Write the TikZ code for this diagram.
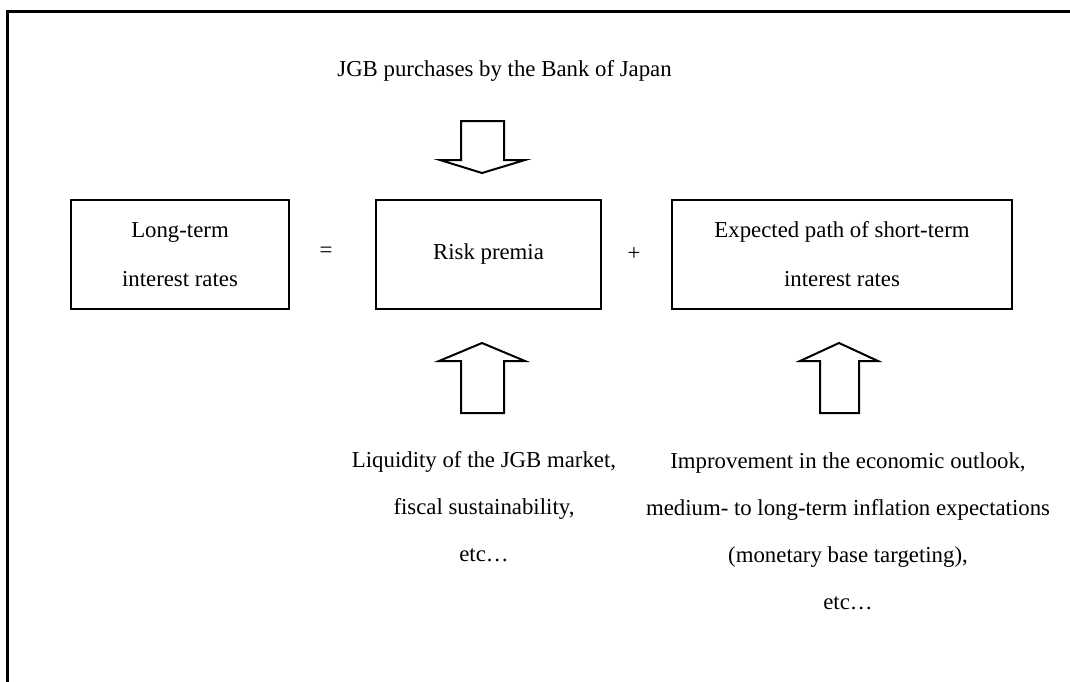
\documentclass[tikz,border=0pt]{standalone}
\usepackage{fontspec}
\setmainfont{Liberation Serif}
\usetikzlibrary{positioning}

\tikzset{
  termbox/.style={draw, line width=1pt, align=center, minimum height=54.5pt,
    inner sep=0pt, font=\fontsize{11.4}{24.5}\selectfont},
  factors/.style={align=center, anchor=north, inner sep=0pt,
    font=\fontsize{11.4}{23.5}\selectfont},
  blockarrow/.style={draw, line width=1pt, line join=miter}
}

\begin{document}
\begin{tikzpicture}[x=0.5pt, y=-0.5pt, font=\fontsize{11.4}{13.7}\selectfont]
\useasboundingbox (0,0) rectangle (1070,681);
% outer frame
\draw[line width=1.5pt] (7.5,690) -- (7.5,11.5) -- (1080,11.5);

\node[termbox, minimum width=109pt] (long) at (180,254.5)
    {Long-term\\interest rates};
\node[termbox, minimum width=112.5pt, right=42.5pt of long] (risk)
    {Risk premia};
\node[termbox, minimum width=170pt, right=34.5pt of risk] (path)
    {Expected path of short-term\\interest rates};
\node (eq) at (326,252) {=};
\node (plus) at (634,254) {+};

\node[anchor=base west, inner sep=0pt] (jgb) at (337,76)
    {JGB purchases by the Bank of Japan};
\node[factors] (liq) at (484,451.5)
    {Liquidity of the JGB market,\\fiscal sustainability,\\etc…};
\node[factors] (outlook) at (848,452)
    {Improvement in the economic outlook,\\medium- to long-term inflation expectations\\(monetary base targeting),\\etc…};

% block arrows
\draw[blockarrow] (461,121) -- (504,121) -- (504,160) -- (525,160)
    -- (482,173) -- (440,160) -- (461,160) -- cycle;
\draw[blockarrow] (461,413) -- (504,413) -- (504,361) -- (525,361)
    -- (482,343) -- (439,361) -- (461,361) -- cycle;
\draw[blockarrow] (820,413) -- (859,413) -- (859,361) -- (878,361)
    -- (839,343) -- (800,361) -- (820,361) -- cycle;
\end{tikzpicture}
\end{document}
